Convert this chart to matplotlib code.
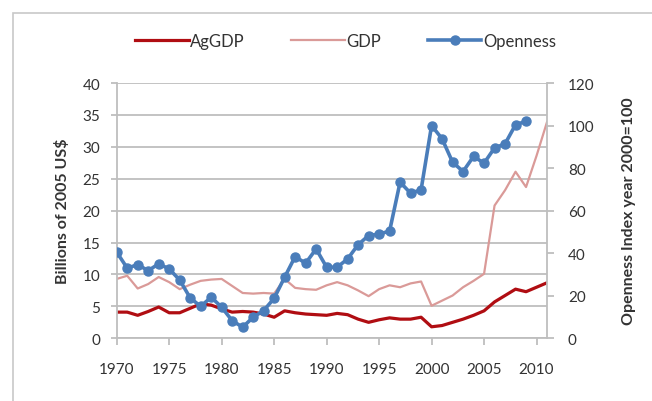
import numpy as np
import matplotlib
matplotlib.use('Agg')
import matplotlib.pyplot as plt
from matplotlib.patches import Rectangle

plt.rcParams['font.family'] = ['Lato', 'DejaVu Sans']

years = list(range(1970, 2012))
ag_gdp = [4.1, 4.1, 3.6, 4.2, 4.9, 4.0, 4.0, 4.7, 5.4, 5.2,
          4.6, 4.1, 4.2, 4.1, 3.8, 3.3, 4.3, 4.0, 3.8, 3.7,
          3.6, 3.9, 3.7, 3.0, 2.5, 2.9, 3.2, 3.0, 3.0, 3.3,
          1.8, 2.0, 2.5, 3.0, 3.6, 4.3, 5.7, 6.7, 7.7, 7.3,
          8.0, 8.7]
gdp = [9.3, 9.8, 7.8, 8.5, 9.6, 8.8, 7.7, 8.4, 9.0, 9.2,
       9.3, 8.2, 7.1, 7.0, 7.1, 7.0, 9.3, 7.9, 7.7, 7.6,
       8.3, 8.8, 8.3, 7.5, 6.6, 7.7, 8.3, 8.0, 8.6, 8.9,
       5.1, 5.9, 6.7, 8.0, 9.0, 10.1, 20.8, 23.2, 26.1, 23.7,
       28.6, 33.9]
open_years = list(range(1970, 2010))
openness = [40.5, 33.0, 34.6, 31.8, 35.0, 32.6, 27.4, 19.0, 15.0, 19.3,
            14.6, 8.3, 5.2, 9.9, 13.0, 18.8, 28.7, 38.4, 35.3, 42.0,
            33.4, 33.4, 37.3, 44.0, 48.3, 49.0, 50.4, 73.4, 68.2, 69.8,
            100.0, 93.8, 82.8, 78.4, 85.5, 82.3, 89.5, 91.4, 100.4, 102.0]

grid_c = '#BEBEBE'
fig = plt.figure(figsize=(6.52, 4.02), dpi=100)
fig.patches.append(Rectangle((0.02, -0.1), 1.2, 1.065, transform=fig.transFigure,
                             fill=False, edgecolor='#C8C8C8', linewidth=1.2))

ax = fig.add_axes([0.179, 0.156, 0.660, 0.635])
ax.plot(years, ag_gdp, color='#B00D12', lw=2.3, label='AgGDP')
ax.plot(years, gdp, color='#DA9A98', lw=1.6, label='GDP')
ax.set_xlim(1970, 2011)
ax.set_ylim(0, 40)
ax.set_yticks(range(0, 41, 5))
ax.set_xticks(range(1970, 2011, 5))
ax.yaxis.grid(True, color=grid_c, lw=1.3)
ax.set_axisbelow(True)
for s in ['top', 'right']:
    ax.spines[s].set_visible(False)
for s in ['left', 'bottom']:
    ax.spines[s].set_color(grid_c)
    ax.spines[s].set_linewidth(1.3)
ax.tick_params(axis='y', length=4, color=grid_c, width=1.3, pad=8, labelsize=11, labelcolor='#333333')
ax.tick_params(axis='x', length=5, color=grid_c, width=1.3, pad=12, labelsize=11, labelcolor='#333333')
ax.set_ylabel('Billions of 2005 US$', fontsize=11.5, fontweight='bold', color='#333333', labelpad=9)

ax2 = ax.twinx()
ax2.plot(open_years, openness, color='#4A7DBA', lw=2.6, marker='o', ms=6.5, label='Openness')
ax2.set_ylim(0, 120)
ax2.set_yticks(range(0, 121, 20))
for s in ['top', 'left', 'bottom']:
    ax2.spines[s].set_visible(False)
ax2.spines['right'].set_color(grid_c)
ax2.spines['right'].set_linewidth(1.3)
ax2.tick_params(axis='y', length=5, color=grid_c, width=1.3, pad=10, labelsize=11, labelcolor='#333333')
ax2.set_ylabel('Openness Index year 2000=100', fontsize=11.5, fontweight='bold', color='#333333',
               rotation=90, labelpad=20)

h1, l1 = ax.get_legend_handles_labels()
h2, l2 = ax2.get_legend_handles_labels()
fig.legend(h1 + h2, l1 + l2, loc='center', bbox_to_anchor=(0.53, 0.895), ncol=3,
           frameon=False, fontsize=12, handlelength=3.2, handletextpad=0.1, columnspacing=2.8,
           labelcolor='#333333')

fig.savefig('out.png', dpi=100)
